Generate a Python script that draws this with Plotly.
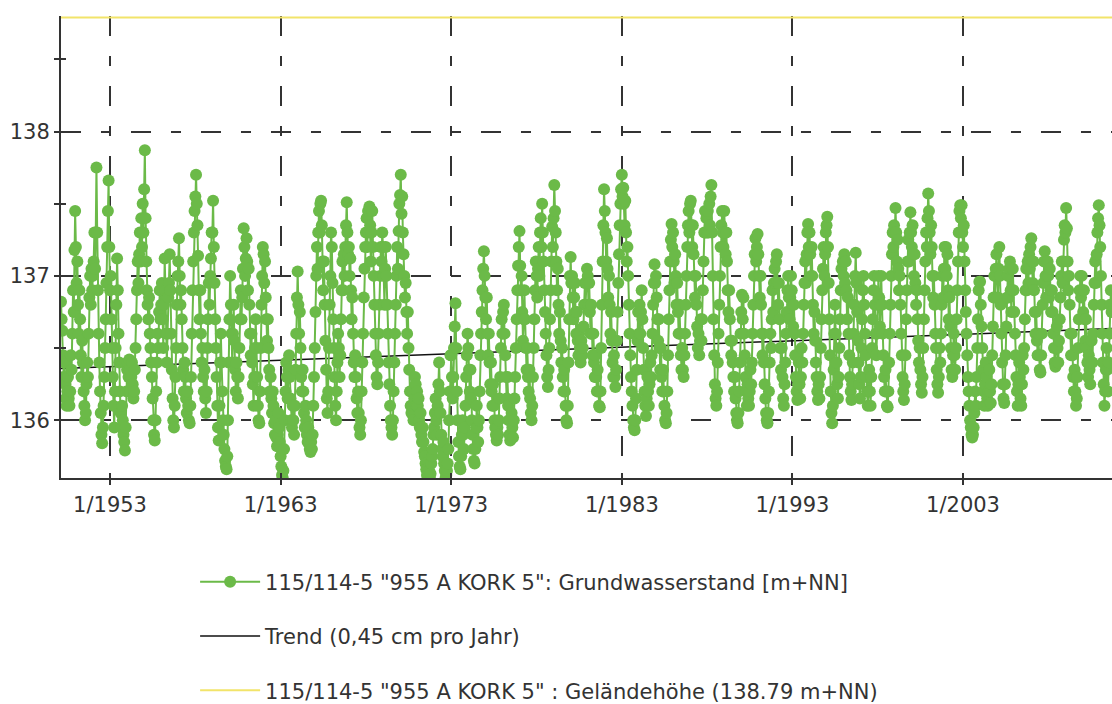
import datetime as dt
import plotly.graph_objects as go

# ---------------- data ----------------
# one row per year, values on the 1st and 16th of each month (m+NN)
years = list(range(1950, 2012))
first_slot_1950 = 3   # 1950 starts at 16 Feb (slot 0 = 1 Jan, 1 = 16 Jan, ...)
levels = [
    # 1950 (from 16 Feb)
    [136.82, 136.7, 136.62, 136.45, 136.3, 136.4, 136.25, 136.15, 136.1, 136.2, 136.3, 136.15, 136.1, 136.2, 136.45, 136.35, 136.6, 136.9, 136.75, 137.18, 137.45],
    # 1951
    [137.2, 136.95, 137.1, 136.8, 136.6, 136.9, 136.7, 136.45, 136.3, 136.55, 136.4, 136.2, 136.1, 136.0, 136.05, 136.25, 136.4, 136.3, 136.6, 136.85, 137.0, 136.8, 137.05, 136.9],
    # 1952
    [137.0, 137.1, 137.3, 137.05, 137.3, 137.75, 137.3, 136.9, 136.6, 136.4, 136.2, 136.05, 135.9, 135.84, 135.95, 136.1, 136.3, 136.5, 136.7, 136.95, 137.2, 137.45, 137.66, 137.2],
    # 1953
    [136.9, 137.0, 136.7, 136.5, 136.3, 136.1, 135.95, 136.2, 136.5, 136.8, 137.12, 136.9, 136.6, 136.4, 136.2, 136.05, 135.95, 136.1, 136.0, 135.9, 135.85, 135.79, 135.95, 136.2],
    # 1954
    [136.35, 136.4, 136.3, 136.42, 136.35, 136.2, 136.3, 136.4, 136.25, 136.15, 136.2, 136.35, 136.5, 136.7, 136.9, 137.1, 136.95, 137.15, 137.3, 137.1, 137.4, 137.2, 137.5, 137.3],
    # 1955
    [137.6, 137.87, 137.4, 137.1, 136.9, 136.8, 136.7, 136.85, 136.6, 136.5, 136.4, 136.3, 136.15, 136.0, 135.9, 135.86, 136.0, 136.2, 136.4, 136.6, 136.5, 136.75, 136.9, 136.7],
    # 1956
    [136.8, 136.95, 136.7, 136.5, 136.8, 137.12, 136.9, 136.6, 136.4, 136.6, 136.85, 136.95, 137.15, 136.9, 136.6, 136.35, 136.15, 136.0, 135.95, 136.1, 136.3, 136.5, 136.8, 137.0],
    # 1957
    [137.1, 137.26, 137.0, 136.8, 136.9, 136.7, 136.5, 136.35, 136.2, 136.4, 136.3, 136.15, 136.05, 136.2, 136.1, 136.0, 135.98, 136.1, 136.3, 136.6, 136.9, 137.1, 137.3, 137.45],
    # 1958
    [137.55, 137.7, 137.5, 137.35, 137.14, 136.9, 136.7, 136.9, 136.6, 136.4, 136.5, 136.3, 136.2, 136.35, 136.15, 136.05, 136.2, 136.5, 136.7, 136.95, 136.8, 137.0, 137.12, 137.3],
    # 1959
    [137.3, 137.52, 137.2, 136.95, 136.7, 136.5, 136.3, 136.1, 135.95, 135.86, 136.1, 136.4, 136.6, 136.4, 136.2, 136.0, 135.9, 135.8, 135.72, 135.68, 135.66, 135.75, 136.0, 136.4],
    # 1960
    [136.7, 137.0, 136.8, 136.6, 136.4, 136.6, 136.8, 136.55, 136.35, 136.2, 136.4, 136.3, 136.15, 136.3, 136.5, 136.7, 136.9, 136.7, 136.85, 137.05, 137.33, 137.2, 137.0, 137.12],
    # 1961
    [137.26, 137.1, 136.9, 137.05, 136.8, 136.6, 136.45, 136.6, 136.4, 136.25, 136.1, 136.3, 136.5, 136.7, 136.5, 136.3, 136.1, 136.0, 135.98, 136.2, 136.5, 136.8, 137.0, 137.2],
    # 1962
    [137.15, 136.95, 137.1, 136.85, 136.7, 136.55, 136.7, 136.5, 136.35, 136.2, 136.3, 136.15, 136.05, 136.2, 136.1, 135.98, 135.9, 136.0, 135.88, 135.82, 135.9, 136.05, 135.95, 135.85],
    # 1963
    [135.75, 135.68, 135.62, 135.6, 135.65, 135.8, 136.0, 136.2, 136.4, 136.3, 136.15, 136.35, 136.45, 136.3, 136.15, 136.0, 135.95, 136.1, 136.0, 135.9, 136.1, 136.35, 136.6, 136.85],
    # 1964
    [137.03, 136.8, 136.6, 136.75, 136.5, 136.3, 136.2, 136.35, 136.2, 136.05, 135.95, 136.1, 136.0, 135.9, 135.85, 135.95, 135.85, 135.8, 135.78, 135.85, 135.8, 135.9, 136.1, 136.3],
    # 1965
    [136.5, 136.75, 137.0, 137.2, 137.05, 137.3, 137.45, 137.3, 137.5, 137.52, 137.35, 137.1, 136.9, 137.1, 136.8, 136.55, 136.35, 136.15, 136.05, 136.2, 136.5, 136.8, 137.0, 137.3],
    # 1966
    [137.2, 136.95, 136.7, 136.5, 136.3, 136.1, 136.0, 136.2, 136.4, 136.6, 136.5, 136.3, 136.45, 136.7, 136.9, 137.1, 136.9, 137.15, 137.0, 137.2, 137.35, 137.51, 137.3, 137.15],
    # 1967
    [137.2, 137.0, 137.12, 136.9, 136.7, 136.85, 136.6, 136.4, 136.3, 136.45, 136.3, 136.15, 136.05, 136.2, 136.05, 135.95, 135.9, 136.0, 136.2, 136.4, 136.6, 136.85, 137.05, 137.2],
    # 1968
    [137.3, 137.4, 137.2, 137.45, 137.3, 137.48, 137.35, 137.1, 137.3, 137.45, 137.2, 137.0, 136.8, 136.6, 136.45, 136.3, 136.25, 136.4, 136.6, 136.8, 137.0, 137.2, 137.1, 137.3],
    # 1969
    [137.2, 137.0, 136.8, 137.05, 137.2, 137.0, 136.8, 136.6, 136.4, 136.25, 136.1, 136.0, 135.95, 135.9, 136.0, 136.2, 136.4, 136.6, 136.8, 137.0, 137.2, 137.05, 137.31, 137.5],
    # 1970
    [137.56, 137.7, 137.43, 137.55, 137.3, 137.15, 137.0, 136.85, 136.95, 136.75, 136.6, 136.75, 136.5, 136.35, 136.2, 136.1, 136.05, 136.2, 136.1, 136.0, 136.15, 136.3, 136.25, 136.1],
    # 1971
    [136.2, 136.1, 136.15, 136.0, 135.95, 136.05, 135.9, 135.85, 135.95, 135.85, 135.78, 135.75, 135.7, 135.66, 135.62, 135.6, 135.62, 135.65, 135.6, 135.63, 135.7, 135.75, 135.8, 135.9],
    # 1972
    [135.95, 136.05, 136.15, 136.0, 135.9, 136.1, 136.25, 136.4, 136.2, 136.05, 135.9, 135.8, 135.75, 135.85, 135.7, 135.65, 135.6, 135.62, 135.65, 135.7, 135.8, 136.0, 136.2, 136.45],
    # 1973
    [136.45, 136.3, 136.15, 136.3, 136.5, 136.65, 136.81, 136.5, 136.2, 136.0, 135.85, 135.75, 135.68, 135.66, 135.75, 135.9, 136.0, 135.9, 135.8, 135.95, 136.1, 136.3, 136.45, 136.6],
    # 1974
    [136.5, 136.35, 136.2, 136.35, 136.15, 136.0, 135.9, 135.8, 135.72, 135.7, 135.8, 135.95, 136.1, 135.95, 135.85, 136.0, 136.2, 136.45, 136.6, 136.75, 136.9, 137.05, 137.17, 137.0],
    # 1975
    [136.85, 136.7, 136.85, 136.6, 136.45, 136.6, 136.4, 136.25, 136.4, 136.2, 136.1, 136.25, 136.1, 136.0, 135.95, 135.9, 135.86, 135.95, 135.9, 136.0, 136.15, 136.3, 136.5, 136.7],
    # 1976
    [136.6, 136.75, 136.8, 136.6, 136.45, 136.3, 136.15, 136.3, 136.1, 136.0, 135.9, 135.86, 135.9, 136.05, 135.95, 135.88, 136.0, 136.15, 136.3, 136.5, 136.7, 136.9, 137.07, 137.2],
    # 1977
    [137.31, 137.07, 136.9, 137.0, 136.75, 136.55, 136.7, 136.9, 136.7, 136.5, 136.35, 136.5, 136.3, 136.2, 136.35, 136.15, 136.05, 136.0, 136.1, 136.3, 136.5, 136.7, 136.9, 137.1],
    # 1978
    [137.0, 136.85, 137.05, 137.2, 137.0, 137.3, 137.4, 137.2, 137.5, 137.3, 137.1, 136.9, 136.75, 136.6, 136.45, 136.3, 136.23, 136.35, 136.5, 136.7, 136.9, 137.1, 137.34, 137.2],
    # 1979
    [137.4, 137.63, 137.45, 137.3, 137.1, 136.9, 137.05, 136.8, 136.6, 136.75, 136.55, 136.4, 136.5, 136.3, 136.2, 136.35, 136.2, 136.1, 136.0, 135.98, 136.1, 136.4, 136.7, 137.0],
    # 1980
    [137.13, 136.95, 137.0, 136.85, 136.7, 136.85, 136.95, 136.75, 136.6, 136.75, 136.55, 136.45, 136.6, 136.5, 136.4, 136.55, 136.45, 136.5, 136.65, 136.8, 136.95, 136.8, 136.95, 137.05],
    # 1981
    [137.0, 136.8, 136.95, 136.75, 136.6, 136.8, 136.6, 136.45, 136.6, 136.4, 136.3, 136.45, 136.3, 136.2, 136.35, 136.2, 136.1, 136.09, 136.2, 136.5, 136.8, 137.1, 137.35, 137.6],
    # 1982
    [137.45, 137.3, 137.1, 137.26, 137.05, 136.85, 137.0, 136.8, 136.6, 136.75, 136.55, 136.4, 136.3, 136.45, 136.3, 136.23, 136.35, 136.55, 136.75, 136.95, 137.15, 137.35, 137.5, 137.6],
    # 1983
    [137.7, 137.55, 137.61, 137.5, 137.35, 137.52, 137.3, 137.1, 137.2, 137.0, 136.8, 136.6, 136.45, 136.3, 136.2, 136.1, 136.0, 135.95, 135.93, 136.0, 136.15, 136.35, 136.55, 136.75],
    # 1984
    [136.6, 136.8, 136.6, 136.75, 136.9, 136.7, 136.5, 136.35, 136.2, 136.1, 136.03, 136.15, 136.3, 136.2, 136.1, 136.25, 136.4, 136.3, 136.45, 136.6, 136.8, 136.95, 137.08, 136.95],
    # 1985
    [137.0, 136.85, 136.7, 136.55, 136.7, 136.5, 136.35, 136.5, 136.3, 136.2, 136.35, 136.2, 136.1, 136.0, 135.98, 136.05, 136.2, 136.45, 136.7, 136.9, 137.1, 137.25, 137.36, 137.2],
    # 1986
    [137.3, 137.1, 136.95, 137.15, 137.0, 136.8, 136.95, 136.75, 136.6, 136.8, 136.6, 136.45, 136.35, 136.5, 136.35, 136.3, 136.45, 136.6, 136.8, 137.0, 137.2, 137.35, 137.45, 137.3],
    # 1987
    [137.5, 137.52, 137.35, 137.2, 137.35, 137.15, 137.0, 136.85, 137.0, 136.8, 136.65, 136.5, 136.6, 136.45, 136.55, 136.7, 136.55, 136.7, 136.9, 137.1, 137.3, 137.45, 137.3, 137.4],
    # 1988
    [137.3, 137.45, 137.3, 137.5, 137.35, 137.55, 137.63, 137.3, 137.0, 136.7, 136.45, 136.25, 136.15, 136.1, 136.2, 136.4, 136.6, 136.8, 137.0, 137.2, 137.35, 137.45, 137.3, 137.2],
    # 1989
    [137.45, 137.3, 137.15, 137.3, 137.1, 136.9, 136.75, 136.9, 136.7, 136.55, 136.45, 136.55, 136.4, 136.3, 136.2, 136.3, 136.15, 136.05, 136.0, 135.98, 136.05, 136.2, 136.4, 136.6],
    # 1990
    [136.75, 136.87, 136.7, 136.85, 136.6, 136.45, 136.3, 136.2, 136.1, 136.25, 136.15, 136.1, 136.2, 136.35, 136.25, 136.4, 136.6, 136.8, 137.0, 137.15, 137.26, 137.1, 137.2, 137.29],
    # 1991
    [137.15, 137.0, 136.85, 137.0, 136.8, 136.6, 136.45, 136.6, 136.4, 136.25, 136.15, 136.05, 136.0, 135.98, 136.05, 136.2, 136.4, 136.6, 136.5, 136.7, 136.9, 136.75, 136.95, 137.05],
    # 1992
    [136.95, 137.1, 137.15, 136.95, 136.8, 136.95, 136.7, 136.5, 136.35, 136.5, 136.3, 136.15, 136.1, 136.25, 136.4, 136.6, 136.75, 136.9, 137.0, 136.85, 136.7, 136.85, 137.0, 136.9],
    # 1993
    [136.8, 136.65, 136.8, 136.6, 136.45, 136.3, 136.2, 136.14, 136.25, 136.4, 136.25, 136.15, 136.3, 136.5, 136.4, 136.6, 136.8, 136.95, 137.1, 136.95, 137.15, 137.3, 137.36, 137.2],
    # 1994
    [137.3, 137.15, 137.0, 137.2, 137.0, 136.8, 136.6, 136.75, 136.55, 136.4, 136.3, 136.2, 136.14, 136.25, 136.15, 136.3, 136.5, 136.7, 136.9, 137.05, 137.2, 137.0, 137.15, 137.3],
    # 1995
    [137.35, 137.41, 137.2, 136.95, 136.7, 136.45, 136.2, 136.05, 135.98, 136.1, 136.35, 136.6, 136.8, 136.6, 136.4, 136.25, 136.15, 136.3, 136.5, 136.7, 136.9, 137.05, 136.9, 137.1],
    # 1996
    [137.0, 137.15, 136.95, 137.1, 136.9, 136.7, 136.85, 136.6, 136.45, 136.3, 136.2, 136.14, 136.25, 136.4, 136.6, 136.8, 137.0, 137.16, 136.95, 136.75, 136.55, 136.4, 136.25, 136.15],
    # 1997
    [136.3, 136.5, 136.7, 136.9, 137.0, 136.8, 136.6, 136.45, 136.3, 136.2, 136.1, 136.2, 136.35, 136.2, 136.1, 136.3, 136.5, 136.7, 136.9, 137.0, 136.8, 136.6, 136.45, 136.6],
    # 1998
    [136.8, 137.0, 136.85, 136.65, 136.8, 137.0, 136.8, 136.6, 136.45, 136.3, 136.2, 136.35, 136.2, 136.1, 136.09, 136.2, 136.4, 136.6, 136.8, 137.0, 137.15, 137.3, 137.2, 137.35],
    # 1999
    [137.3, 137.47, 137.3, 137.1, 137.25, 137.05, 136.9, 137.0, 136.8, 136.6, 136.45, 136.3, 136.2, 136.14, 136.25, 136.45, 136.7, 136.9, 137.1, 137.25, 137.1, 137.3, 137.44, 137.3],
    # 2000
    [137.2, 137.35, 137.15, 137.0, 137.15, 136.95, 136.8, 136.9, 136.7, 136.55, 136.4, 136.5, 136.35, 136.25, 136.19, 136.3, 136.5, 136.7, 136.9, 137.1, 137.3, 137.2, 137.4, 137.57],
    # 2001
    [137.45, 137.3, 137.15, 137.35, 137.2, 137.0, 136.85, 137.0, 136.8, 136.6, 136.5, 136.35, 136.25, 136.19, 136.3, 136.5, 136.4, 136.6, 136.8, 137.0, 136.85, 137.05, 137.2, 137.05],
    # 2002
    [137.2, 137.0, 137.15, 136.9, 136.7, 136.85, 136.65, 136.5, 136.35, 136.3, 136.45, 136.6, 136.45, 136.35, 136.5, 136.7, 136.9, 137.1, 137.3, 137.45, 137.49, 137.4, 137.49, 137.3],
    # 2003
    [137.2, 137.35, 137.1, 136.9, 136.75, 136.6, 136.45, 136.3, 136.2, 136.1, 136.0, 135.95, 135.9, 135.88, 135.9, 135.95, 136.05, 136.2, 136.1, 136.3, 136.5, 136.7, 136.9, 136.96],
    # 2004
    [136.96, 136.8, 136.65, 136.5, 136.35, 136.2, 136.1, 136.25, 136.4, 136.3, 136.15, 136.1, 136.2, 136.35, 136.2, 136.12, 136.25, 136.45, 136.65, 136.85, 137.0, 136.85, 137.05, 137.15],
    # 2005
    [137.0, 136.85, 137.05, 137.2, 137.0, 136.8, 136.6, 136.4, 136.25, 136.15, 136.12, 136.25, 136.45, 136.65, 136.85, 137.0, 136.85, 137.05, 137.1, 136.9, 136.75, 136.9, 137.05, 136.9],
    # 2006
    [136.75, 136.6, 136.45, 136.3, 136.2, 136.1, 136.25, 136.4, 136.3, 136.15, 136.1, 136.25, 136.45, 136.35, 136.5, 136.7, 136.9, 137.05, 136.9, 137.1, 136.95, 137.15, 137.05, 137.2],
    # 2007
    [137.26, 137.1, 136.95, 137.1, 136.9, 136.75, 136.6, 136.75, 136.55, 136.45, 136.6, 136.45, 136.35, 136.33, 136.45, 136.6, 136.8, 136.95, 137.1, 137.17, 137.0, 136.85, 137.0, 137.1],
    # 2008
    [137.0, 136.85, 137.05, 136.9, 136.75, 136.9, 136.75, 136.6, 136.5, 136.4, 136.37, 136.5, 136.65, 136.5, 136.4, 136.55, 136.7, 136.85, 137.0, 137.1, 136.95, 137.1, 137.25, 137.35],
    # 2009
    [137.3, 137.47, 137.33, 137.1, 136.9, 137.0, 136.8, 136.6, 136.45, 136.6, 136.45, 136.3, 136.2, 136.35, 136.2, 136.1, 136.15, 136.3, 136.5, 136.7, 136.9, 137.0, 136.85, 137.0],
    # 2010
    [136.9, 136.75, 136.9, 136.7, 136.55, 136.7, 136.5, 136.4, 136.3, 136.45, 136.35, 136.25, 136.4, 136.55, 136.4, 136.6, 136.8, 136.95, 137.1, 136.95, 137.15, 137.3, 137.4, 137.49],
    # 2011 (to 16 Sep)
    [137.35, 137.2, 137.0, 136.8, 136.6, 136.4, 136.25, 136.1, 136.2, 136.35, 136.5, 136.35, 136.2, 136.4, 136.6, 136.8, 136.9, 136.75],
]

trend_dates = ["1950-02-16", "2011-09-25"]
trend_values = [136.358, 136.635]

ground_level = 138.79
ground_dates = ["1950-01-01", "2012-06-30"]

tick_years = [1953, 1963, 1973, 1983, 1993, 2003]
tick_labels = ["1/1953", "1/1963", "1/1973", "1/1983", "1/1993", "1/2003"]

name_gw = '115/114-5 "955 A KORK 5": Grundwasserstand [m+NN]'
name_trend = "Trend (0,45 cm pro Jahr)"
name_ground = '115/114-5 "955 A KORK 5" : Geländehöhe (138.79 m+NN)'

# ---------------- build ----------------
dates, values = [], []
for year, row in zip(years, levels):
    slot = first_slot_1950 if year == 1950 else 0
    for v in row:
        month = slot // 2 + 1
        day = 1 if slot % 2 == 0 else 16
        dates.append(dt.date(year, month, day))
        values.append(v)
        slot += 1

tick_vals = [dt.date(y, 1, 1) for y in tick_years]
x_range = ["1950-02-16", "2011-09-25"]
y_range = [135.6, 138.80]

GREEN = "#6bba48"
AX = "#333333"
FONT = "DejaVu Sans"

fig = go.Figure()
fig.add_trace(go.Scatter(
    x=ground_dates, y=[ground_level, ground_level], mode="lines",
    line=dict(color="#f2e46a", width=2), name=name_ground,
    legendgroup="c", legendrank=3, hoverinfo="skip"))
fig.add_trace(go.Scatter(
    x=trend_dates, y=trend_values, mode="lines",
    line=dict(color="#111111", width=1.5), name=name_trend,
    legendgroup="b", legendrank=2))
fig.add_trace(go.Scatter(
    x=dates, y=values, mode="lines+markers",
    line=dict(color=GREEN, width=2),
    marker=dict(color=GREEN, size=12, line=dict(width=0)),
    name=name_gw, legendgroup="a", legendrank=1))
# helper trace so the overlay axes (inner half of crossing ticks) are drawn
fig.add_trace(go.Scatter(x=[dates[0]], y=[None], xaxis="x2", yaxis="y2",
                         showlegend=False, hoverinfo="skip", mode="lines"))

dash = "20px,20px,10px,20px"
fig.update_layout(
    width=1112, height=704,
    margin=dict(l=61, r=0, t=16, b=226, autoexpand=False),
    paper_bgcolor="white", plot_bgcolor="white",
    font=dict(family=FONT, size=21, color=AX),
    showlegend=True,
    legend=dict(x=0.1276, y=-0.181, xanchor="left", yanchor="top",
                tracegroupgap=24, itemwidth=60,
                font=dict(family=FONT, size=21, color=AX),
                bgcolor="rgba(0,0,0,0)"),
    xaxis=dict(type="date", range=x_range, tickvals=tick_vals, ticktext=tick_labels,
               showgrid=True, gridcolor=AX, gridwidth=1.5, griddash=dash,
               showline=True, linecolor=AX, linewidth=2,
               ticks="outside", ticklen=5, tickwidth=2, tickcolor=AX,
               ticklabelstandoff=2, zeroline=False, automargin=False),
    yaxis=dict(range=y_range, tick0=136, dtick=1,
               showgrid=True, gridcolor=AX, gridwidth=1.5, griddash=dash,
               showline=True, linecolor=AX, linewidth=2,
               ticks="outside", ticklen=5, tickwidth=2, tickcolor=AX,
               minor=dict(dtick=0.5, tick0=136, ticks="outside", ticklen=5,
                          tickwidth=2, tickcolor=AX, showgrid=False),
               zeroline=False, automargin=False),
    xaxis2=dict(type="date", overlaying="x", range=x_range, tickvals=tick_vals,
                showticklabels=False, showgrid=False, showline=False, zeroline=False,
                ticks="inside", ticklen=5, tickwidth=2, tickcolor=AX, anchor="y",
                automargin=False),
    yaxis2=dict(overlaying="y", range=y_range, tick0=136, dtick=1,
                showticklabels=False, showgrid=False, showline=False, zeroline=False,
                ticks="inside", ticklen=5, tickwidth=2, tickcolor=AX, anchor="x",
                automargin=False,
                minor=dict(dtick=0.5, tick0=136, ticks="inside", ticklen=5,
                           tickwidth=2, tickcolor=AX)),
)

# the page's default body margin would shift the figure by 8 px
fig.write_html("out.html", config={"displayModeBar": False},
               post_script="document.body.style.margin='0px';")
